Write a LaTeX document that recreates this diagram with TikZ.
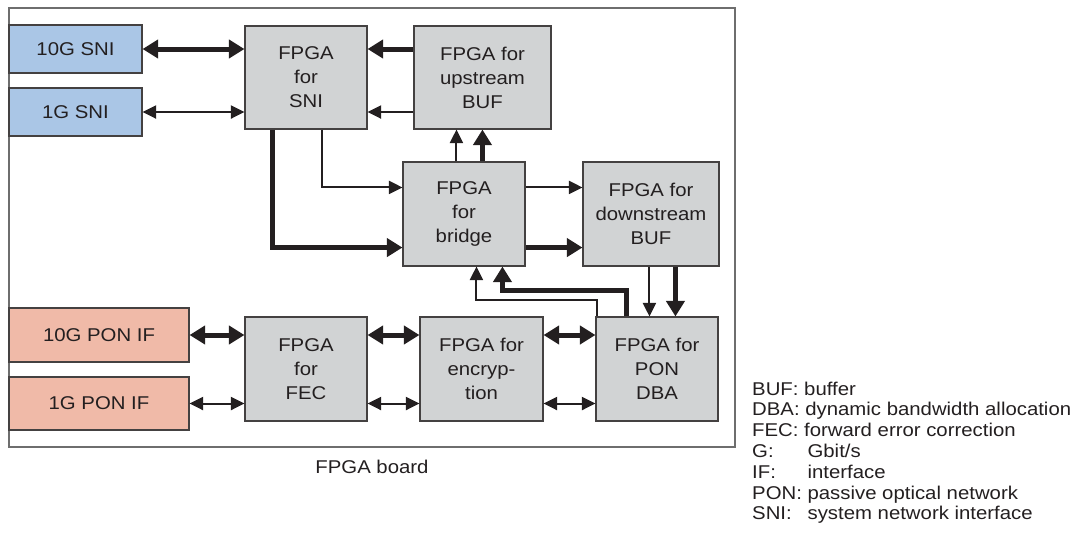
\documentclass[tikz,border=0pt]{standalone}
\usepackage{fontspec}
\setmainfont{Liberation Sans}[FakeStretch=1.1]
\usetikzlibrary{arrows.meta}

\definecolor{ink}{RGB}{35,31,32}
\definecolor{boxgray}{RGB}{209,211,212}
\definecolor{sniblue}{RGB}{170,198,230}
\definecolor{ponsalmon}{RGB}{240,186,168}
\definecolor{boardline}{RGB}{110,110,110}

\tikzset{
  lbl/.style={font=\fontsize{18.5}{24}\selectfont, text=ink, align=center, inner sep=0pt},
  blk/.style={lbl, draw=ink!85, line width=1.1pt, fill=boxgray},
  sniblk/.style={blk, fill=sniblue},
  ponblk/.style={blk, fill=ponsalmon},
  legline/.style={font=\fontsize{18.5}{24}\selectfont, text=ink, inner sep=0pt, anchor=base west},
  thin/.style={draw=ink, line width=2pt, -{Triangle[length=13.5pt,width=13pt]}},
  thk/.style={draw=ink, line width=5pt, -{Triangle[length=15.5pt,width=18pt]}},
  thinboth/.style={draw=ink, line width=2pt, {Triangle[length=13.5pt,width=13pt]}-{Triangle[length=13.5pt,width=13pt]}},
  thkboth/.style={draw=ink, line width=5pt, {Triangle[length=15.5pt,width=18pt]}-{Triangle[length=15.5pt,width=18pt]}},
}
% abbreviation padded to the width of the widest one
\newcommand{\abbrev}[1]{\setbox0\hbox{PON: }\makebox[\wd0][l]{#1}}

\begin{document}
\begin{tikzpicture}[x=1pt,y=-1pt]
\useasboundingbox (0,0) rectangle (1085,547);

% board outline and caption
\node[draw=boardline, line width=1.2pt, minimum width=726pt, minimum height=439pt, inner sep=0pt] (board) at (372,227.5) {};
\node[lbl] (boardcap) at (372,467) {FPGA board};

% interface blocks
\node[sniblk, minimum width=133pt, minimum height=48pt] (sni10) at (75.5,49) {10G SNI};
\node[sniblk, minimum width=133pt, minimum height=48pt] (sni1) at (75.5,112) {1G SNI};
\node[ponblk, minimum width=180pt, minimum height=54pt] (pon10) at (99,335) {10G PON IF};
\node[ponblk, minimum width=180pt, minimum height=53pt] (pon1) at (99,403.5) {1G PON IF};

% FPGA blocks
\node[blk, minimum width=122pt, minimum height=103pt] (fsni) at (306,77.5) {FPGA\\for\\SNI};
\node[blk, minimum width=137pt, minimum height=103pt] (ubuf) at (482.5,77.5) {FPGA for\\upstream\\BUF};
\node[blk, minimum width=122pt, minimum height=104pt] (bridge) at (464,214) {FPGA\\for\\bridge};
\node[blk, minimum width=136pt, minimum height=104pt] (dbuf) at (651,214) {FPGA for\\downstream\\BUF};
\node[blk, minimum width=122pt, minimum height=104pt] (fec) at (306,369) {FPGA\\for\\FEC};
\node[blk, minimum width=123pt, minimum height=104pt] (enc) at (481.5,369) {FPGA for\\encryp-\\tion};
\node[blk, minimum width=122pt, minimum height=104pt] (dba) at (657,369) {FPGA for\\PON\\DBA};

% SNI side
\draw[thkboth] (sni10.east) -- (sni10.east -| fsni.west);
\draw[thinboth] (sni1.east) -- (sni1.east -| fsni.west);
\draw[thk] (ubuf.west |- sni10.east) -- (fsni.east |- sni10.east);
\draw[thin] (ubuf.west |- sni1.east) -- (fsni.east |- sni1.east);

% SNI to bridge
\draw[thk] ([xshift=28pt]fsni.south west) |- ([yshift=19pt]bridge.south west);
\draw[thin] ([xshift=78pt]fsni.south west) |- ([yshift=-26pt]bridge.north west);

% bridge to upstream buffer
\draw[thin] ([xshift=54pt]bridge.north west) -- ([xshift=54pt]bridge.north west |- ubuf.south);
\draw[thk] ([xshift=80pt]bridge.north west) -- ([xshift=80pt]bridge.north west |- ubuf.south);

% bridge to downstream buffer
\draw[thin] ([yshift=-26pt]bridge.north east) -- ([yshift=-26pt]bridge.north east -| dbuf.west);
\draw[thk] ([yshift=19pt]bridge.south east) -- ([yshift=19pt]bridge.south east -| dbuf.west);

% downstream buffer to DBA
\draw[thin] ([xshift=67pt]dbuf.south west) -- ([xshift=67pt]dbuf.south west |- dba.north);
\draw[thk] ([xshift=93pt]dbuf.south west) -- ([xshift=93pt]dbuf.south west |- dba.north);

% DBA back to bridge
\draw[thk] ([xshift=31pt]dba.north west) |- ++(0,-26) -| ([xshift=100pt]bridge.south west);
\draw[thin] ([xshift=2pt]dba.north west) |- ++(0,-16) -| ([xshift=74pt]bridge.south west);

% PON chain
\draw[thkboth] (pon10.east) -- (pon10.east -| fec.west);
\draw[thinboth] (pon1.east) -- (pon1.east -| fec.west);
\draw[thkboth] (fec.east |- pon10.east) -- (enc.west |- pon10.east);
\draw[thinboth] (fec.east |- pon1.east) -- (enc.west |- pon1.east);
\draw[thkboth] (enc.east |- pon10.east) -- (dba.west |- pon10.east);
\draw[thinboth] (enc.east |- pon1.east) -- (dba.west |- pon1.east);

% abbreviations
\node[legline] (leg1) at (752,395) {BUF: buffer};
\node[legline] (leg2) at (752,415.8) {DBA: dynamic bandwidth allocation};
\node[legline] (leg3) at (752,436.6) {FEC: forward error correction};
\node[legline] (leg4) at (752,457.4) {\abbrev{G:}Gbit/s};
\node[legline] (leg5) at (752,478.2) {\abbrev{IF:}interface};
\node[legline] (leg6) at (752,499) {PON: passive optical network};
\node[legline] (leg7) at (752,519.8) {\abbrev{SNI:}system network interface};
\end{tikzpicture}
\end{document}
